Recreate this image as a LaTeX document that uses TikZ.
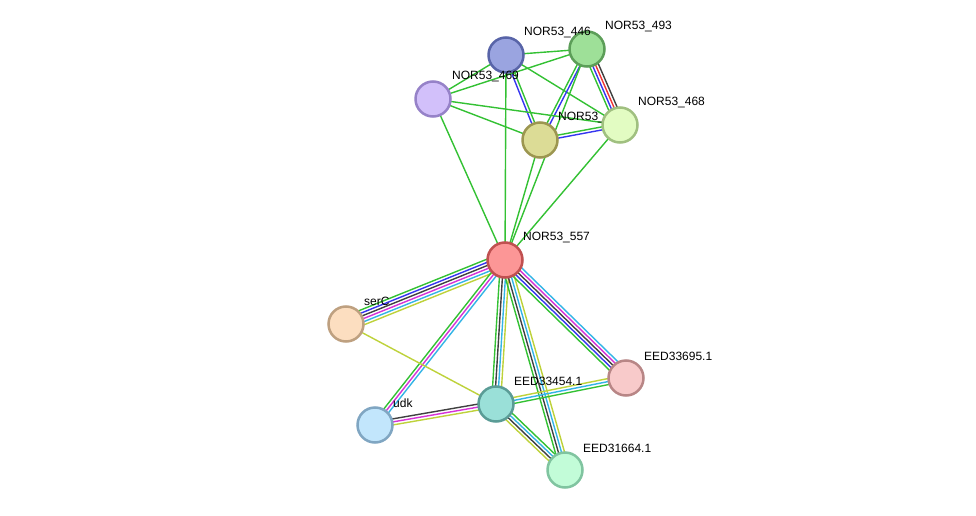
\documentclass[tikz,border=0pt]{standalone}
\usepackage{fontspec}
\setmainfont{Liberation Sans}
\usetikzlibrary{calc}
\pgfdeclarelayer{back}
\pgfdeclarelayer{bg}
\pgfsetlayers{back,bg,main}
\definecolor{eg}{HTML}{33C133}
\definecolor{eb}{HTML}{3535F0}
\definecolor{ek}{HTML}{404040}
\definecolor{em}{HTML}{D632D6}
\definecolor{ec}{HTML}{33B4E6}
\definecolor{ey}{HTML}{BED23A}
\definecolor{er}{HTML}{F03535}
\tikzset{
  prot/.style={circle,minimum size=35pt,inner sep=0pt,line width=2.5pt},
  lbl/.style={anchor=west,inner sep=0pt,font=\fontsize{12pt}{14pt}\selectfont},
  edge/.style={line width=1.4pt}
}
\newcommand\medge[3]{%
  \foreach \cc [count=\ii] in {#3} {\xdef\nlines{\ii}}%
  \foreach \cc [count=\ii] in {#3} {%
    \pgfmathsetmacro\off{(\ii-1-(\nlines-1)/2)*3}%
    \draw[edge,\cc] ($(#1)!\off pt!90:(#2)$) -- ($(#2)!\off pt!-90:(#1)$);
  }%
}
\begin{document}
\begin{tikzpicture}[x=1pt,y=-1pt]
\begin{pgfonlayer}{back}
\fill[white] (0,0) rectangle (976,516);
\end{pgfonlayer}
\useasboundingbox (0,0) rectangle (976,516);
% nodes (drawing order matters for overlaps)
\node[prot,draw={rgb,255:red,92;green,158;blue,88},fill={rgb,255:red,158;green,224;blue,152}] (n493) at (587,49) {};
\node[lbl] (l493) at (605,27) {NOR53\_493};
\node[prot,draw={rgb,255:red,88;green,100;blue,168},fill={rgb,255:red,154;green,164;blue,224}] (n446) at (506,55) {};
\node[lbl] (l446) at (524,33) {NOR53\_446};
\node[prot,draw={rgb,255:red,150;green,130;blue,200},fill={rgb,255:red,210;green,192;blue,250}] (n469) at (433,99) {};
\node[lbl] (l469) at (452,77) {NOR53\_469};
\node[prot,draw={rgb,255:red,156;green,150;blue,80},fill={rgb,255:red,220;green,220;blue,150}] (nol) at (540,140) {};
\node[lbl] (lol) at (558,118) {NOR53\_};
\node[prot,draw={rgb,255:red,160;green,192;blue,128},fill={rgb,255:red,226;green,252;blue,194}] (n468) at (620,125) {};
\node[lbl] (l468) at (638,103) {NOR53\_468};
\node[prot,draw={rgb,255:red,192;green,80;blue,80},fill={rgb,255:red,252;green,150;blue,150}] (n557) at (505,260) {};
\node[lbl] (l557) at (523,238) {NOR53\_557};
\node[prot,draw={rgb,255:red,190;green,160;blue,128},fill={rgb,255:red,252;green,222;blue,192}] (nser) at (346,324) {};
\node[lbl] (lser) at (364,301) {serC};
\node[prot,draw={rgb,255:red,184;green,134;blue,134},fill={rgb,255:red,248;green,202;blue,202}] (n695) at (626,378) {};
\node[lbl] (l695) at (644,356) {EED33695.1};
\node[prot,draw={rgb,255:red,90;green,156;blue,150},fill={rgb,255:red,154;green,224;blue,216}] (n454) at (496,404) {};
\node[lbl] (l454) at (514,381) {EED33454.1};
\node[prot,draw={rgb,255:red,128;green,166;blue,194},fill={rgb,255:red,194;green,230;blue,252}] (nudk) at (375,425) {};
\node[lbl] (ludk) at (393,403) {udk};
\node[prot,draw={rgb,255:red,128;green,196;blue,160},fill={rgb,255:red,194;green,252;blue,216}] (n664) at (565,470) {};
\node[lbl] (l664) at (583,448) {EED31664.1};
% edges
\begin{pgfonlayer}{bg}
\medge{n446}{n493}{eg}
\medge{n446}{n469}{eg}
\medge{n446}{n468}{eg}
\medge{n446}{nol}{eb,eg}
\medge{n446}{n557}{eg}
\medge{n493}{n469}{eg}
\medge{n493}{nol}{eg,eb}
\medge{n493}{n468}{eg,eb,er,ek}
\medge{n493}{n557}{eg}
\medge{n469}{n468}{eg}
\medge{n469}{nol}{eg}
\medge{n469}{n557}{eg}
\medge{nol}{n468}{eb,eg}
\medge{nol}{n557}{eg}
\medge{n468}{n557}{eg}
\medge{n557}{nser}{eg,eb,ek,em,ec,ey}
\medge{n557}{nudk}{eg,em,ec}
\medge{n557}{n454}{eg,ek,ec,ey}
\medge{n557}{n664}{eg,ek,ec,ey}
\medge{n557}{n695}{eg,eb,ek,em,ec}
\medge{nser}{n454}{ey}
\medge{n454}{nudk}{ek,em,ey}
\medge{n454}{n695}{eg,ec,ey}
\medge{n454}{n664}{ey,ek,ec,eg}
\end{pgfonlayer}
\end{tikzpicture}
\end{document}
